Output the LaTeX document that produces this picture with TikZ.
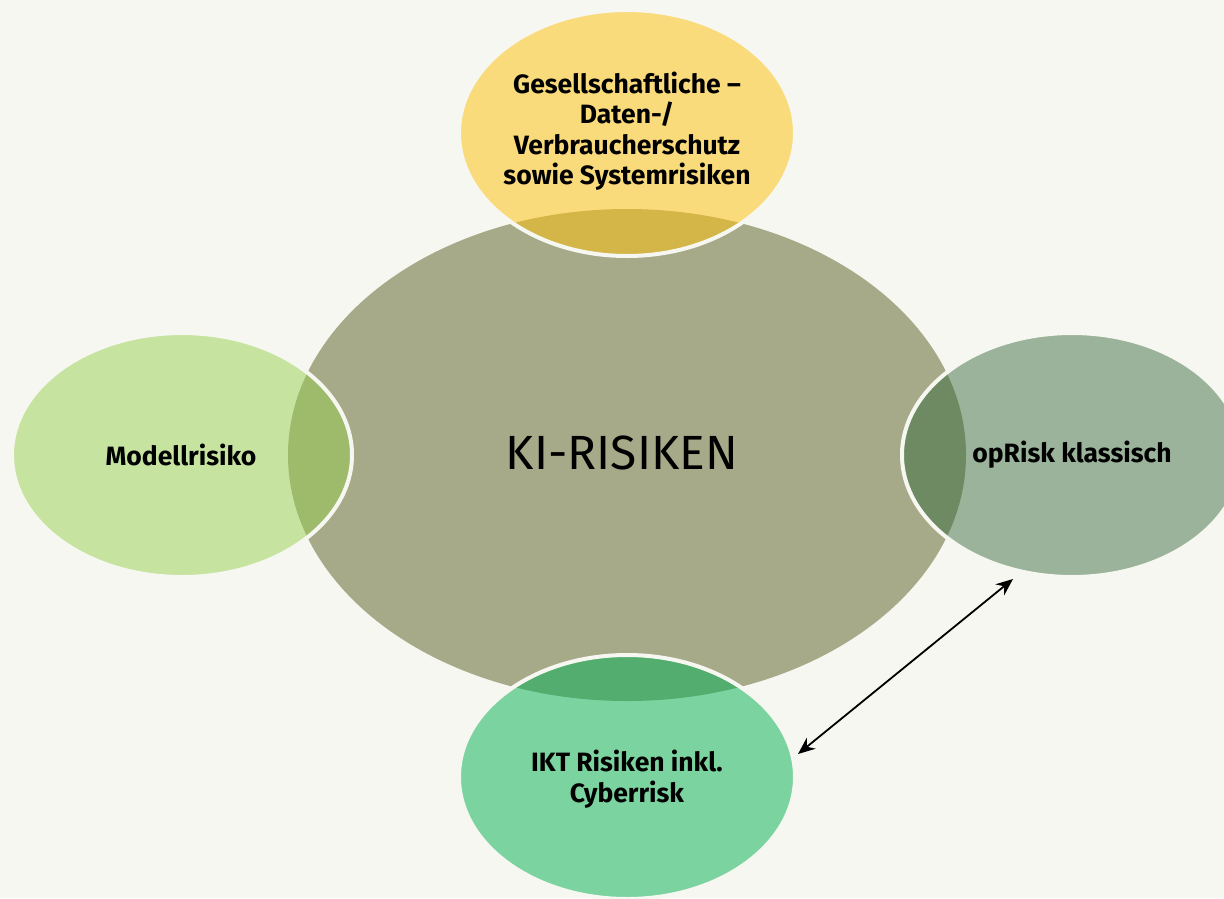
\documentclass[tikz,border=0pt]{standalone}
\usepackage{fontspec}
\setmainfont{Fira Sans}
\definecolor{bg}{HTML}{F6F7F0}
\definecolor{central}{HTML}{A6AA89}
\definecolor{yel}{HTML}{FADB7B}
\definecolor{yeldark}{HTML}{D4B548}
\definecolor{lgreen}{HTML}{C6E3A0}
\definecolor{lgreendark}{HTML}{9DBB6B}
\definecolor{sage}{HTML}{9AB39A}
\definecolor{sagedark}{HTML}{6E8A62}
\definecolor{mint}{HTML}{7BD3A0}
\definecolor{mintdark}{HTML}{53AD6E}
\tikzset{
  rim/.style={draw=bg, line width=4pt},
  lbl/.style={font=\bfseries\fontsize{26.5}{30.5}\selectfont, align=center, text=black, inner sep=0pt},
  conn/.style={<->, >={Stealth[length=17pt,width=14pt]}, line width=1.8pt, black}
}
\usetikzlibrary{arrows.meta}
\begin{document}
\begin{tikzpicture}[x=1pt,y=-1pt]
\useasboundingbox (0,0) rectangle (1224,898);
\fill[bg] (0,0) rectangle (1224,898);
\clip (0,0) rectangle (1224,898);
% central
\fill[central] (627,455) ellipse [x radius=339pt, y radius=246pt];
% top
\fill[yel] (627,133) ellipse [x radius=168pt, y radius=123pt];
\begin{scope}
\clip (627,133) ellipse [x radius=168pt, y radius=123pt];
\fill[yeldark] (627,455) ellipse [x radius=339pt, y radius=246pt];
\end{scope}
\draw[rim] (627,133) ellipse [x radius=168pt, y radius=123pt];
% left
\fill[lgreen] (182,455) ellipse [x radius=170pt, y radius=122pt];
\begin{scope}
\clip (182,455) ellipse [x radius=170pt, y radius=122pt];
\fill[lgreendark] (627,455) ellipse [x radius=339pt, y radius=246pt];
\end{scope}
\draw[rim] (182,455) ellipse [x radius=170pt, y radius=122pt];
% right
\fill[sage] (1072,455) ellipse [x radius=170pt, y radius=122pt];
\begin{scope}
\clip (1072,455) ellipse [x radius=170pt, y radius=122pt];
\fill[sagedark] (627,455) ellipse [x radius=339pt, y radius=246pt];
\end{scope}
\draw[rim] (1072,455) ellipse [x radius=170pt, y radius=122pt];
% bottom
\fill[mint] (627,777) ellipse [x radius=168pt, y radius=122pt];
\begin{scope}
\clip (627,777) ellipse [x radius=168pt, y radius=122pt];
\fill[mintdark] (627,455) ellipse [x radius=339pt, y radius=246pt];
\end{scope}
\draw[rim] (627,777) ellipse [x radius=168pt, y radius=122pt];
% texts
\node[font=\fontsize{48}{52}\selectfont, inner sep=0pt] (ki) at (622,453) {KI-RISIKEN};
\node[lbl] (ges) at (627,131) {Gesellschaftliche –\\Daten-/\\Verbraucherschutz\\sowie Systemrisiken};
\node[lbl] (mod) at (181,455) {Modellrisiko};
\node[lbl] (op) at (1072,455) {opRisk klassisch};
\node[lbl] (ikt) at (627,779) {IKT Risiken inkl.\\Cyberrisk};
% connector
\coordinate (opEnd) at (1013,579);
\coordinate (iktEnd) at (798,754);
\draw[conn] (iktEnd) -- (opEnd);
\end{tikzpicture}
\end{document}
